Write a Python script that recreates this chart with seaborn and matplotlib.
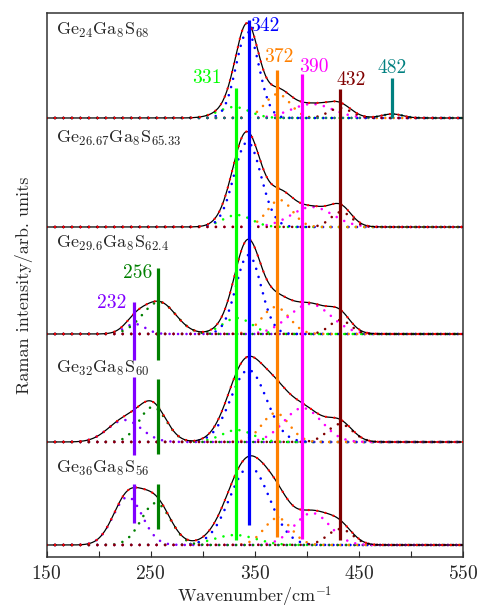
import numpy as np
import seaborn as sns
import matplotlib.pyplot as plt

# samples, top to bottom
samples = [r'$\mathrm{Ge_{24}Ga_{8}S_{68}}$',
           r'$\mathrm{Ge_{26.67}Ga_{8}S_{65.33}}$',
           r'$\mathrm{Ge_{29.6}Ga_{8}S_{62.4}}$',
           r'$\mathrm{Ge_{32}Ga_{8}S_{60}}$',
           r'$\mathrm{Ge_{36}Ga_{8}S_{56}}$']
offsets = [427, 318, 211, 103, 0]

# fitted bands (order: 232, 256, 331, 342, 372, 390, 432, 482)
band_labels = ['232', '256', '331', '342', '372', '390', '432', '482']
band_colors = ['#8000ff', '#008000', '#00ff00', '#0000ff',
               '#ff8000', '#ff00ff', '#800000', '#008080']
centers = [[232, 256, 330, 343, 372, 405, 432, 482],
           [232, 256, 333, 343, 374, 405, 433, 482],
           [235, 258, 333, 344, 370, 403, 432, 482],
           [225, 252, 333, 344, 370, 396, 432, 482],
           [228, 255, 331, 345, 372, 405, 432, 482]]
heights = [[0, 0, 11, 86, 24, 14, 10, 4],
           [0, 0, 12, 85, 27, 20, 15, 0],
           [10, 32, 16, 79, 27, 30, 14, 0],
           [22, 35, 12, 72, 29, 34, 18, 0],
           [48, 42, 10, 78, 27, 32, 16, 0]]
widths = [[10, 14, 15, 11, 12, 20, 11, 10],
          [10, 14, 14, 13, 12, 20, 10, 10],
          [10, 16, 14, 12, 13, 20, 10, 10],
          [16, 13, 15, 17, 13, 18, 12, 10],
          [14, 14, 20, 19, 13, 17, 12, 10]]

# marker lines for the band positions
line_pos = [234, 257, 332, 344, 371, 395, 432, 482]
line_segs = [[(185, 243), (90, 168), (22, 61)],
             [(185, 277), (91, 166), (16, 61)],
             [(5, 457)],
             [(20, 525)],
             [(8, 475)],
             [(6, 471)],
             [(5, 456)],
             [(427, 467)]]
label_xy = [(213, 242, 'center'), (238, 272, 'center'), (304, 467, 'center'),
            (346, 519, 'left'), (373, 488, 'center'), (393, 478, 'left'),
            (443, 465, 'center'), (482, 477, 'center')]
sample_y = [515, 407, 302, 177, 77]

sns.set_theme(style='ticks')
plt.rcParams['font.family'] = 'serif'
plt.rcParams['font.serif'] = ['cmr10']
plt.rcParams['mathtext.fontset'] = 'cm'
plt.rcParams['axes.formatter.use_mathtext'] = True

fig = plt.figure(figsize=(4.78, 6.10), dpi=100)
ax = fig.add_axes([46.5 / 478, 53 / 610, 416.5 / 478, 544 / 610])

wn = np.arange(150, 551, 1.0)
dots = (0, (0.01, 3.2))

for s in range(len(samples)):
    off = offsets[s]
    total = np.zeros_like(wn)
    for b in range(len(band_labels)):
        h = heights[s][b]
        if h == 0:
            continue
        comp = h * np.exp(-0.5 * ((wn - centers[s][b]) / widths[s][b]) ** 2)
        total += comp
        sns.lineplot(x=wn, y=comp + off, color=band_colors[b], lw=1.9,
                     linestyle=dots, dash_capstyle='round', ax=ax, zorder=2)
    sns.lineplot(x=wn, y=total + off, color='black', lw=0.9, ax=ax, zorder=3)
    sns.lineplot(x=wn, y=total + off, color='#ff0000', lw=1.7,
                 linestyle=(0, (0.01, 3.6)), dash_capstyle='round', ax=ax, zorder=4)
    ax.text(159, sample_y[s], samples[s], fontsize=13, ha='left', va='center')

for b in range(len(band_labels)):
    for y0, y1 in line_segs[b]:
        ax.plot([line_pos[b], line_pos[b]], [y0, y1], color=band_colors[b],
                lw=2.3, solid_capstyle='butt', zorder=5)
    lx, ly, ha = label_xy[b]
    ax.text(lx, ly, band_labels[b], color=band_colors[b], fontsize=14,
            ha=ha, va='center')

ax.set_xlim(150, 550)
ax.set_ylim(-12, 532)
ax.set_xticks([150, 250, 350, 450, 550])
ax.set_xticks([200, 300, 400, 500], minor=True)
ax.set_yticks([])
ax.tick_params(axis='x', which='both', direction='in', length=4, width=0.8,
               labelsize=14, pad=6)
for sp in ax.spines.values():
    sp.set_color('#333333')
    sp.set_linewidth(1.1)
ax.set_xlabel(r'Wavenumber/cm$^{-1}$', fontsize=13, labelpad=1)
ax.set_ylabel('Raman intensity/arb. units', fontsize=13, labelpad=10)

fig.savefig('out.png', dpi=100)
